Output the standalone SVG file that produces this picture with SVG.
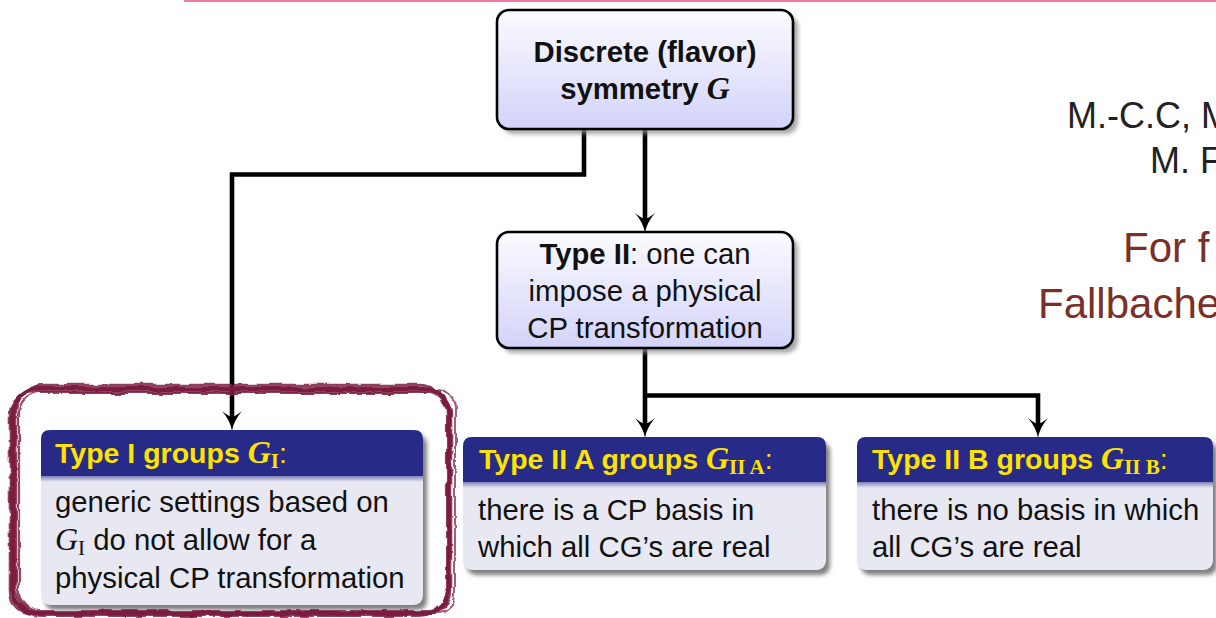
<svg xmlns="http://www.w3.org/2000/svg" width="1216" height="618" viewBox="0 0 1216 618">
  <style>
    .sans { font-family: "Liberation Sans", Arial, Helvetica, sans-serif; }
    .math { font-family: "Liberation Serif", "Times New Roman", serif; font-style: italic; font-size: 32px; }
    .rm { font-family: "Liberation Serif", "Times New Roman", serif; font-style: normal; }
    .body { font-size: 29.3px; fill: #111; }
    .bold { font-weight: bold; }
    .hdr { font-size: 28.5px; font-weight: bold; fill: #ffe300; }
    .flow { fill: url(#flowFill); stroke: #000; stroke-width: 2.6; }
    .flowShadow { fill: #8a8a8a; opacity: 0.75; }
    .blkShadow { fill: #4a4a4a; opacity: 0.7; }
    .blkBody { fill: #e8e8f3; }
    .blkHead { fill: #272a87; }
    .wire { fill: none; stroke: #000; stroke-width: 4.6; stroke-linejoin: miter; }
    .sketch { fill: none; stroke: #7b1d41; }
  </style>
  <defs>
    <linearGradient id="flowFill" x1="0" y1="0" x2="0" y2="1">
      <stop offset="0" stop-color="#fbfbff"/>
      <stop offset="1" stop-color="#d3d3fa"/>
    </linearGradient>
    <linearGradient id="headFade" x1="0" y1="0" x2="0" y2="1">
      <stop offset="0" stop-color="#272a87" stop-opacity="0.55"/>
      <stop offset="1" stop-color="#272a87" stop-opacity="0"/>
    </linearGradient>
    <filter id="soft" x="-10%" y="-10%" width="130%" height="140%">
      <feGaussianBlur stdDeviation="2.2"/>
    </filter>
    <filter id="rough" x="-5%" y="-5%" width="110%" height="110%">
      <feTurbulence type="fractalNoise" baseFrequency="0.045 0.06" numOctaves="3" seed="11"/>
      <feDisplacementMap in="SourceGraphic" scale="6" xChannelSelector="R" yChannelSelector="G"/>
    </filter>
    <marker id="arrow" markerUnits="userSpaceOnUse" markerWidth="22" markerHeight="22" viewBox="0 0 22 22" refX="12" refY="11" orient="auto">
      <path d="M21,11 Q11,12.5 1,21 Q6,15 7,11 Q6,7 1,1 Q11,9.5 21,11 Z" fill="#000"/>
    </marker>
  </defs>

  <!-- header rule -->
  <rect x="184" y="0" width="1032" height="2" fill="#ee7aa3"/>

  <!-- side text -->
  <g id="authors" class="sans" font-size="36" fill="#222">
    <text x="1067" y="128">M.-C.C, M</text>
    <text x="1150" y="173">M. F</text>
  </g>
  <g id="note" class="sans" font-size="42" fill="#7a3029">
    <text x="1123" y="262">For f</text>
    <text x="1038" y="318">Fallbache</text>
  </g>

  <!-- connectors -->
  <g id="connectors">
    <path class="wire" d="M584,129 V174.5 H232 V422" marker-end="url(#arrow)"/>
    <path class="wire" d="M645,129 V224" marker-end="url(#arrow)"/>
    <path class="wire" d="M645,348 V429" marker-end="url(#arrow)"/>
    <path class="wire" d="M645,395.5 H1038 V429" marker-end="url(#arrow)"/>
  </g>

  <!-- root node -->
  <g id="node-symmetry">
    <rect class="flowShadow" x="502" y="15" width="296" height="119" rx="12" filter="url(#soft)"/>
    <rect class="flow" x="497" y="10" width="296" height="119" rx="12"/>
    <text class="sans body bold" x="645" y="61.5" text-anchor="middle">Discrete (flavor)</text>
    <text class="sans body bold" x="645" y="98.5" text-anchor="middle">symmetry <tspan class="math">G</tspan></text>
  </g>

  <!-- type II node -->
  <g id="node-type2">
    <rect class="flowShadow" x="502" y="237" width="296" height="116" rx="12" filter="url(#soft)"/>
    <rect class="flow" x="497" y="232" width="296" height="116" rx="12"/>
    <text class="sans body" x="645" y="263.5" text-anchor="middle"><tspan class="bold">Type II</tspan>: one can</text>
    <text class="sans body" x="645" y="300.5" text-anchor="middle">impose a physical</text>
    <text class="sans body" x="645" y="337.5" text-anchor="middle">CP transformation</text>
  </g>

  <!-- type I block with hand-drawn highlight -->
  <g id="node-type1">
    <rect class="blkShadow" x="45" y="435" width="382" height="175" rx="9" filter="url(#soft)"/>
    <rect class="blkBody" x="41" y="430" width="382" height="175" rx="9"/>
    <path class="blkHead" d="M41,476 V439 Q41,430 50,430 H414 Q423,430 423,439 V476 Z"/>
    <rect x="41" y="476" width="382" height="6" fill="url(#headFade)"/>
    <text class="sans hdr" x="55" y="462.5">Type I groups <tspan class="math">G</tspan><tspan class="rm" font-size="21" dy="5">I</tspan><tspan font-weight="normal" dy="-5">:</tspan></text>
    <text class="sans body" x="55" y="512">generic settings based on</text>
    <text class="sans body" x="55" y="550"><tspan class="math">G</tspan><tspan class="rm" font-size="21" dy="5">I</tspan><tspan dy="-5"> do not allow for a</tspan></text>
    <text class="sans body" x="55" y="588">physical CP transformation</text>
    <g filter="url(#rough)">
      <rect class="sketch" x="13" y="389" width="436" height="224" rx="24" stroke-width="4"/>
      <rect class="sketch" x="16" y="385" width="432" height="230" rx="28" stroke-width="2.6" opacity="0.85"/>
      <rect class="sketch" x="10" y="392" width="441" height="221" rx="22" stroke-width="2.6" opacity="0.85"/>
      <rect class="sketch" x="19" y="393" width="428" height="218" rx="20" stroke-width="2.2" opacity="0.8"/>
      <rect class="sketch" x="11" y="387" width="437" height="229" rx="30" stroke-width="2" opacity="0.75"/>
      <rect class="sketch" x="15" y="390" width="440" height="223" rx="18" stroke-width="2" opacity="0.7"/>
    </g>
  </g>

  <!-- type II A block -->
  <g id="node-type2a">
    <rect class="blkShadow" x="467" y="442" width="363" height="133" rx="9" filter="url(#soft)"/>
    <rect class="blkBody" x="463" y="437" width="363" height="133" rx="9"/>
    <path class="blkHead" d="M463,482 V446 Q463,437 472,437 H817 Q826,437 826,446 V482 Z"/>
    <rect x="463" y="482" width="363" height="6" fill="url(#headFade)"/>
    <text class="sans hdr" x="479" y="469">Type II A groups <tspan class="math">G</tspan><tspan class="rm" font-size="21" dy="5">II A</tspan><tspan font-weight="normal" dy="-5">:</tspan></text>
    <text class="sans body" x="478" y="520">there is a CP basis in</text>
    <text class="sans body" x="478" y="557">which all CG’s are real</text>
  </g>

  <!-- type II B block -->
  <g id="node-type2b">
    <rect class="blkShadow" x="861" y="442" width="356" height="133" rx="9" filter="url(#soft)"/>
    <rect class="blkBody" x="857" y="437" width="356" height="133" rx="9"/>
    <path class="blkHead" d="M857,482 V446 Q857,437 866,437 H1204 Q1213,437 1213,446 V482 Z"/>
    <rect x="857" y="482" width="356" height="6" fill="url(#headFade)"/>
    <text class="sans hdr" x="872" y="469">Type II B groups <tspan class="math">G</tspan><tspan class="rm" font-size="21" dy="5">II B</tspan><tspan font-weight="normal" dy="-5">:</tspan></text>
    <text class="sans body" x="872" y="520">there is no basis in which</text>
    <text class="sans body" x="872" y="557">all CG’s are real</text>
  </g>
</svg>
